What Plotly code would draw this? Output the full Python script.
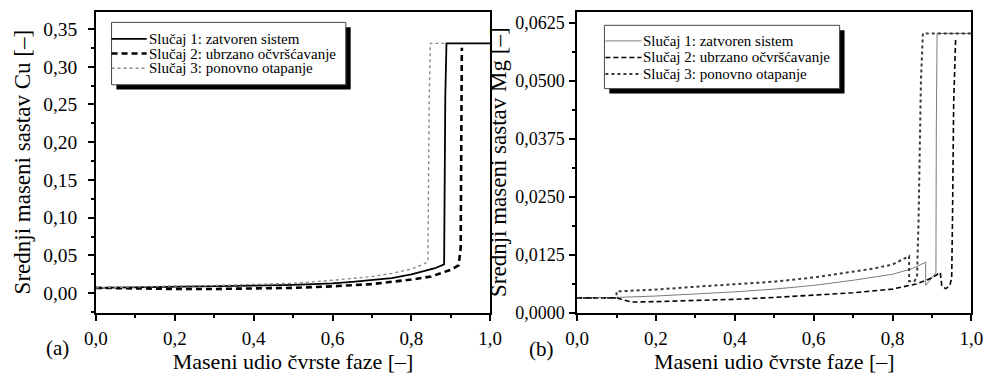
import plotly.graph_objects as go

# ---------------- data ----------------
# Panel (a): Cu
cu1_x = [0, 0.1, 0.2, 0.3, 0.4, 0.5, 0.6, 0.65, 0.7, 0.75, 0.8, 0.83, 0.86, 0.883, 0.886, 0.889, 1.0]
cu1_y = [0.007, 0.0075, 0.008, 0.009, 0.010, 0.011, 0.013, 0.015, 0.017, 0.020, 0.025, 0.029, 0.033, 0.038, 0.26, 0.331, 0.331]

cu2_x = [0, 0.1, 0.2, 0.3, 0.4, 0.5, 0.6, 0.7, 0.75, 0.8, 0.85, 0.88, 0.9, 0.92, 0.925, 0.928]
cu2_y = [0.007, 0.006, 0.0055, 0.0055, 0.006, 0.007, 0.009, 0.012, 0.015, 0.018, 0.022, 0.027, 0.031, 0.037, 0.06, 0.325]

cu3_x = [0, 0.1, 0.2, 0.3, 0.4, 0.5, 0.6, 0.7, 0.75, 0.8, 0.83, 0.842, 0.845, 0.848, 0.886]
cu3_y = [0.007, 0.0085, 0.0095, 0.010, 0.011, 0.013, 0.017, 0.022, 0.026, 0.032, 0.038, 0.042, 0.25, 0.331, 0.331]

# Panel (b): Mg
mg1_x = [0, 0.1, 0.2, 0.3, 0.4, 0.5, 0.6, 0.7, 0.8, 0.85, 0.884, 0.884, 0.91, 0.911, 0.913, 1.0]
mg1_y = [0.0032, 0.0033, 0.0036, 0.0040, 0.0045, 0.0051, 0.0059, 0.0070, 0.0083, 0.0095, 0.0109, 0.0059, 0.0086, 0.04, 0.0602, 0.0602]

mg2_x = [0, 0.1, 0.12, 0.14, 0.2, 0.3, 0.4, 0.5, 0.6, 0.7, 0.8, 0.86, 0.9, 0.921, 0.925, 0.935, 0.945, 0.95, 0.952, 0.955, 0.96]
mg2_y = [0.0032, 0.0032, 0.0027, 0.0023, 0.0024, 0.0026, 0.0029, 0.0033, 0.0038, 0.0043, 0.0051, 0.0062, 0.0075, 0.0087, 0.0057, 0.0052, 0.0058, 0.0075, 0.02, 0.045, 0.0592]

mg3_x = [0, 0.1, 0.1, 0.2, 0.3, 0.4, 0.5, 0.6, 0.7, 0.75, 0.8, 0.842, 0.842, 0.855, 0.862, 0.866, 0.872, 0.877, 1.0]
mg3_y = [0.0032, 0.0032, 0.0046, 0.0050, 0.0056, 0.0061, 0.0067, 0.0076, 0.0088, 0.0095, 0.0104, 0.0122, 0.0068, 0.0068, 0.0075, 0.02, 0.05, 0.0602, 0.0602]

series_names = ["Slučaj 1: zatvoren sistem", "Slučaj 2: ubrzano očvršćavanje", "Slučaj 3: ponovno otapanje"]

x_tickvals = [0.0, 0.2, 0.4, 0.6, 0.8, 1.0]
x_ticktext = ["0,0", "0,2", "0,4", "0,6", "0,8", "1,0"]
x_minor = [0.1, 0.3, 0.5, 0.7, 0.9]

cu_tickvals = [0.0, 0.05, 0.10, 0.15, 0.20, 0.25, 0.30, 0.35]
cu_ticktext = ["0,00", "0,05", "0,10", "0,15", "0,20", "0,25", "0,30", "0,35"]
cu_minor = [-0.025, 0.025, 0.075, 0.125, 0.175, 0.225, 0.275, 0.325]

mg_tickvals = [0.0, 0.0125, 0.025, 0.0375, 0.05, 0.0625]
mg_ticktext = ["0,0000", "0,0125", "0,0250", "0,0375", "0,0500", "0,0625"]
mg_minor = [0.00625, 0.01875, 0.03125, 0.04375, 0.05625]

x_title = "Maseni udio čvrste faze [–]"
cu_title = "Srednji maseni sastav Cu [–]"
mg_title = "Srednji maseni sastav Mg [–]"

FONT = "Liberation Serif, Times New Roman, DejaVu Serif, serif"

cu_styles = [dict(color="black", width=1.8),
             dict(color="black", width=2.6, dash="6px,4px"),
             dict(color="#8a8a8a", width=1.4, dash="dot")]
mg_styles = [dict(color="#7a7a7a", width=1),
             dict(color="black", width=1.6, dash="5px,3px"),
             dict(color="#3a3a3a", width=2, dash="dot")]

fig = go.Figure()

for xs, ys, name, st in zip([cu1_x, cu2_x, cu3_x], [cu1_y, cu2_y, cu3_y], series_names, cu_styles):
    fig.add_trace(go.Scatter(x=xs, y=ys, mode="lines", name=name, line=st, xaxis="x", yaxis="y"))
for xs, ys, name, st in zip([mg1_x, mg2_x, mg3_x], [mg1_y, mg2_y, mg3_y], series_names, mg_styles):
    fig.add_trace(go.Scatter(x=xs, y=ys, mode="lines", name=name, line=st, xaxis="x2", yaxis="y2"))

W, H = 1000, 385
def px(x):
    return x / W
def py(y):
    return 1 - y / H

axis_common = dict(showline=True, linecolor="black", linewidth=1.5, mirror=True,
                   ticks="outside", ticklen=6, tickwidth=1.5, tickcolor="black",
                   showgrid=False, zeroline=False)

minor_style = dict(ticks="outside", ticklen=3, tickwidth=1.5, tickcolor="black")

xaxis_common = dict(axis_common, range=[0, 1], tickmode="array", tickvals=x_tickvals, ticktext=x_ticktext,
                    tickfont=dict(family=FONT, size=19, color="black"), ticklabelstandoff=2,
                    minor=dict(minor_style, tickmode="array", tickvals=x_minor),
                    title=dict(text=x_title, font=dict(family=FONT, size=22, color="black"), standoff=4))

fig.update_layout(
    width=W, height=H,
    margin=dict(l=0, r=0, t=0, b=0),
    paper_bgcolor="white", plot_bgcolor="white",
    font=dict(family=FONT, color="black"),
    showlegend=False,
    xaxis=dict(xaxis_common, domain=[0.086, 0.490], anchor="y"),
    yaxis=dict(axis_common, domain=[0.166, 0.969], anchor="x", range=[-0.026, 0.373],
               tickmode="array", tickvals=cu_tickvals, ticktext=cu_ticktext,
               tickfont=dict(family=FONT, size=19.5, color="black"), ticklabelstandoff=7,
               minor=dict(minor_style, tickmode="array", tickvals=cu_minor),
               title=dict(text=cu_title, font=dict(family=FONT, size=23, color="black"), standoff=6)),
    xaxis2=dict(xaxis_common, domain=[0.579, 0.983], anchor="y2"),
    yaxis2=dict(axis_common, domain=[0.166, 0.969], anchor="x2", range=[0, 0.0649],
                tickmode="array", tickvals=mg_tickvals, ticktext=mg_ticktext,
                tickfont=dict(family=FONT, size=18, color="black"), ticklabelstandoff=1,
                minor=dict(minor_style, tickmode="array", tickvals=mg_minor),
                title=dict(text=mg_title, font=dict(family=FONT, size=23, color="black"), standoff=2)),
)

# legend boxes (with drop shadow), sample lines and labels
legends = [
    dict(box=(102, 23, 342, 87), line_x=(102, 138), rows=[40, 55, 70], styles=cu_styles),
    dict(box=(607, 26, 848, 91), line_x=(608, 645), rows=[42, 59, 76], styles=mg_styles),
]
for lg in legends:
    x0, y0, x1, y1 = lg["box"]
    fig.add_shape(type="rect", xref="paper", yref="paper",
                  x0=px(x0 + 5), x1=px(x1 + 5), y0=py(y1 + 5), y1=py(y0 + 5),
                  fillcolor="black", line=dict(width=0), layer="above")
    fig.add_shape(type="rect", xref="paper", yref="paper",
                  x0=px(x0), x1=px(x1), y0=py(y1), y1=py(y0),
                  fillcolor="white", line=dict(color="#444", width=1), layer="above")
    lx0, lx1 = lg["line_x"]
    for row, st, name in zip(lg["rows"], lg["styles"], series_names):
        fig.add_shape(type="line", xref="paper", yref="paper",
                      x0=px(lx0), x1=px(lx1), y0=py(row), y1=py(row),
                      line=st, layer="above")
        fig.add_annotation(text=name, x=px(lx1 + 1), y=py(row), xref="paper", yref="paper",
                           xanchor="left", yanchor="middle", showarrow=False, borderpad=0,
                           font=dict(family=FONT, size=15, color="black"))

fig.add_annotation(text="(a)", x=px(33), y=py(372), xref="paper", yref="paper", showarrow=False,
                   font=dict(family=FONT, size=21, color="black"))
fig.add_annotation(text="(b)", x=px(543), y=py(373), xref="paper", yref="paper", showarrow=False,
                   font=dict(family=FONT, size=21, color="black"))

fig.write_html("out.html")
